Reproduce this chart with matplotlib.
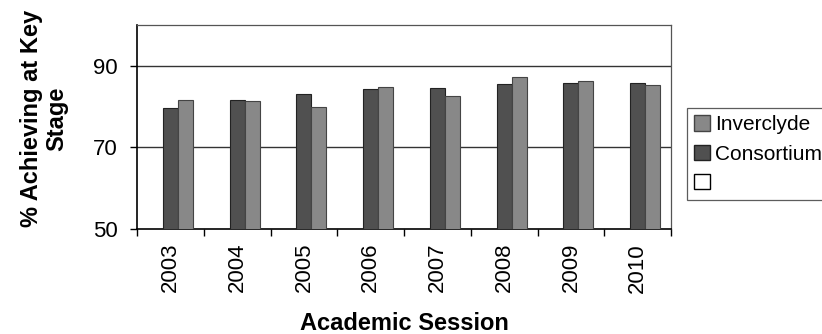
import numpy as np
import matplotlib.pyplot as plt
from matplotlib.patches import Patch

plt.rcParams['font.family'] = ['Liberation Sans', 'DejaVu Sans']

sessions = ['2003', '2004', '2005', '2006', '2007', '2008', '2009', '2010']
consortium = [79.6, 81.5, 83.2, 84.3, 84.6, 85.5, 85.7, 85.9]
inverclyde = [81.5, 81.4, 79.8, 84.7, 82.7, 87.2, 86.3, 85.4]

dark = '#505050'
light = '#888888'

fig = plt.figure(figsize=(8.22, 3.34), dpi=100)
ax = fig.add_axes([0.1667, 0.3144, 0.6496, 0.6107])

x = np.arange(len(sessions))
w = 0.225
ax.bar(x, consortium, w, color=dark, edgecolor='#222222', linewidth=0.8, zorder=3)
ax.bar(x + w, inverclyde, w, color=light, edgecolor='#444444', linewidth=0.8, zorder=3)

ax.set_ylim(50, 100)
ax.set_xlim(-0.5, len(sessions) - 0.5)
ax.set_yticks([50, 70, 90])
ax.set_xticks(x)
ax.set_xticklabels(sessions, rotation=90, fontsize=16)
ax.set_xticks(np.arange(len(sessions) + 1) - 0.5, minor=True)
ax.tick_params(axis='x', which='major', length=0, pad=10)
ax.tick_params(axis='x', which='minor', length=5, direction='out', width=1)
ax.tick_params(axis='y', labelsize=16, length=5, direction='out', width=1, pad=9)

for yv in (70, 90):
    ax.axhline(yv, color='#333333', linewidth=1, zorder=1)

for side in ('left', 'bottom'):
    ax.spines[side].set_linewidth(1.2)
for side in ('top', 'right'):
    ax.spines[side].set_color('#555555')
    ax.spines[side].set_linewidth(0.9)

ax.set_xlabel('Academic Session', fontsize=17, fontweight='bold', labelpad=14)
ax.set_ylabel('% Achieving at Key\nStage', fontsize=17, fontweight='bold',
              linespacing=1.15)
ax.yaxis.set_label_coords(-0.128, 0.54)

handles = [
    Patch(facecolor=light, edgecolor='#444444', label='Inverclyde'),
    Patch(facecolor=dark, edgecolor='#222222', label='Consortium'),
    Patch(facecolor='white', edgecolor='black', label=''),
]
leg = fig.legend(handles=handles, loc='upper left', bbox_to_anchor=(0.836, 0.677),
                 fontsize=15, frameon=True, fancybox=False, handlelength=0.75,
                 handleheight=0.75, handletextpad=0.25, borderpad=0.35,
                 labelspacing=0.5, borderaxespad=0)
leg.get_frame().set_edgecolor('#333333')
leg.get_frame().set_linewidth(0.9)

fig.savefig('out.png', dpi=100)
